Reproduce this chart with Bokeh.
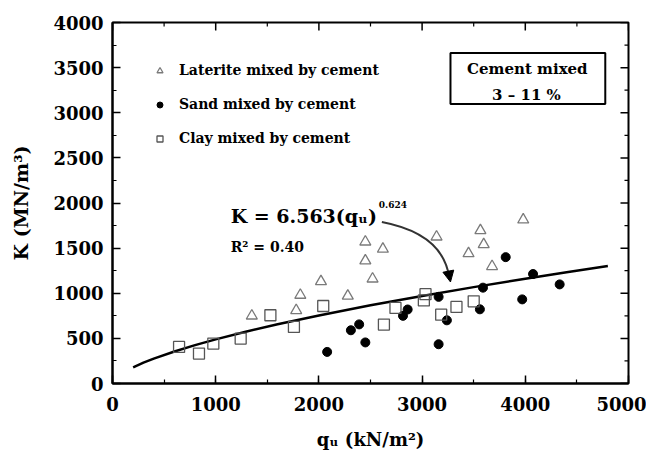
import math
from bokeh.plotting import figure
from bokeh.models import Range1d, BoxAnnotation, Arrow, NormalHead, Label, Legend, LegendItem, SingleIntervalTicker
from bokeh.embed import file_html
from bokeh.resources import INLINE

# ---- data ----
laterite_q = [1350, 1780, 1820, 2020, 2280, 2450, 2450, 2520, 2620, 3140, 3450, 3565, 3597, 3678, 3980]
laterite_k = [750, 810, 980, 1130, 970, 1570, 1360, 1160, 1490, 1625, 1440, 1696, 1541, 1298, 1814]

sand_q = [2080, 2310, 2390, 2450, 2815, 2860, 3160, 3160, 3240, 3560, 3590, 3810, 3970, 4075, 4333]
sand_k = [350, 590, 655, 455, 750, 820, 960, 435, 700, 822, 1062, 1400, 932, 1213, 1098]

clay_q = [645, 838, 977, 1242, 1530, 1758, 2042, 2630, 2742, 3017, 3033, 3185, 3333, 3500]
clay_k = [405, 332, 442, 498, 756, 627, 859, 653, 837, 921, 990, 763, 848, 910]

fit_q = [200, 300, 400, 600, 800, 1000, 1300, 1600, 2000, 2500, 3000, 3500, 4000, 4400, 4800]
fit_k = [179, 231, 276, 355, 425, 489, 576, 656, 753, 866, 970, 1068, 1161, 1232, 1301]

x_major = [0, 1000, 2000, 3000, 4000, 5000]
x_minor = [500, 1500, 2500, 3500, 4500]
y_major = [0, 500, 1000, 1500, 2000, 2500, 3000, 3500, 4000]
y_minor = [250, 750, 1250, 1750, 2250, 2750, 3250, 3750]

FONT = "DejaVu Serif"
X_MAX, Y_MAX = 5000, 4000

p = figure(width=646, height=452, output_backend="svg", toolbar_location=None,
           x_range=Range1d(0, X_MAX), y_range=Range1d(0, Y_MAX),
           min_border_left=112, min_border_right=18, min_border_top=22, min_border_bottom=67,
           outline_line_color="black", outline_line_width=2, outline_line_alpha=1)
p.grid.visible = False
p.background_fill_color = "white"

def style_axis(ax):
    ax.axis_line_width = 2
    ax.axis_line_color = "black"
    ax.major_tick_in = 8
    ax.major_tick_out = 0
    ax.minor_tick_in = 4
    ax.minor_tick_out = 0
    ax.major_tick_line_width = 1.5
    ax.minor_tick_line_width = 1.2
    ax.major_label_text_font = FONT
    ax.major_label_text_font_style = "bold"
    ax.major_label_text_font_size = "18px"
    ax.major_label_text_color = "black"
    ax.axis_label_text_font = FONT
    ax.axis_label_text_font_style = "bold"
    ax.axis_label_text_color = "black"

xa = p.xaxis[0]
ya = p.yaxis[0]
style_axis(xa)
style_axis(ya)
xa.ticker = SingleIntervalTicker(interval=1000, num_minor_ticks=2)
ya.ticker = SingleIntervalTicker(interval=500, num_minor_ticks=2)
xa.axis_label = "qᵤ (kN/m²)"
ya.axis_label = "K (MN/m³)"
xa.axis_label_text_font_size = "18px"
ya.axis_label_text_font_size = "19px"
xa.major_label_standoff = 13
ya.major_label_standoff = 9
xa.axis_label_standoff = 15
ya.axis_label_standoff = 18

# mirrored ticks on top and right frame edges (screen-length rays)
p.ray(x=x_major, y=[Y_MAX] * len(x_major), length=8, angle=-math.pi / 2, length_units="screen",
      line_color="black", line_width=1.5)
p.ray(x=x_minor, y=[Y_MAX] * len(x_minor), length=4, angle=-math.pi / 2, length_units="screen",
      line_color="black", line_width=1.2)
p.ray(x=[X_MAX] * len(y_major), y=y_major, length=8, angle=math.pi, length_units="screen",
      line_color="black", line_width=1.5)
p.ray(x=[X_MAX] * len(y_minor), y=y_minor, length=4, angle=math.pi, length_units="screen",
      line_color="black", line_width=1.2)

# fitted curve
p.line(fit_q, fit_k, line_color="black", line_width=2.5)

# data markers
r_lat = p.scatter(laterite_q, laterite_k, marker="triangle", size=11, fill_alpha=0,
                  line_color="#7a7a7a", line_width=1.3)
r_sand = p.scatter(sand_q, sand_k, marker="circle", size=9, fill_color="black", line_color="black")
r_clay = p.scatter(clay_q, clay_k, marker="square", size=11, fill_alpha=0,
                   line_color="#555555", line_width=1.3)

legend = Legend(items=[LegendItem(label="Laterite mixed by cement", renderers=[r_lat]),
                       LegendItem(label="Sand mixed by cement", renderers=[r_sand]),
                       LegendItem(label="Clay mixed by cement", renderers=[r_clay])],
                location=(40, 237), orientation="vertical")
legend.label_text_font = FONT
legend.label_text_font_style = "bold"
legend.label_text_font_size = "14px"
legend.label_text_color = "black"
legend.glyph_width = 15
legend.glyph_height = 15
legend.label_height = 15
legend.spacing = 18
legend.padding = 0
legend.margin = 0
legend.label_standoff = 12
legend.border_line_alpha = 0
legend.background_fill_alpha = 0
p.add_layout(legend, "center")

# cement mixed box
p.add_layout(BoxAnnotation(left=3275, right=4775, bottom=3097, top=3661,
                           fill_alpha=0, line_color="black", line_alpha=1, line_width=2))
p.add_layout(Label(x=4020, y=3484, text="Cement mixed", text_font=FONT, text_font_style="bold",
                   text_font_size="15px", text_color="black", text_align="center", text_baseline="middle"))
p.add_layout(Label(x=4011, y=3197, text="3 – 11 %", text_font=FONT, text_font_style="bold",
                   text_font_size="15px", text_color="black", text_align="center", text_baseline="middle"))

# equation annotation
p.add_layout(Label(x=1145, y=1858, text="K = 6.563(qᵤ)", text_font=FONT, text_font_style="bold",
                   text_font_size="19px", text_color="black", text_align="left", text_baseline="middle"))
p.add_layout(Label(x=2580, y=1985, text="0.624", text_font=FONT, text_font_style="bold",
                   text_font_size="9px", text_color="black", text_align="left", text_baseline="middle"))
p.add_layout(Label(x=1145, y=1515, text="R² = 0.40", text_font=FONT, text_font_style="bold",
                   text_font_size="14px", text_color="black", text_align="left", text_baseline="middle"))

# curved arrow
p.quadratic(x0=[2610], y0=[1789], x1=[3262], y1=[1180], cx=[3200], cy=[1660],
            line_color="#333333", line_width=2)
p.add_layout(Arrow(end=NormalHead(size=11, fill_color="black", line_color="black"),
                   x_start=3255, y_start=1240, x_end=3275, y_end=1125,
                   line_color="#333333", line_width=2))

open("out.html", "w").write(file_html(p, INLINE))
